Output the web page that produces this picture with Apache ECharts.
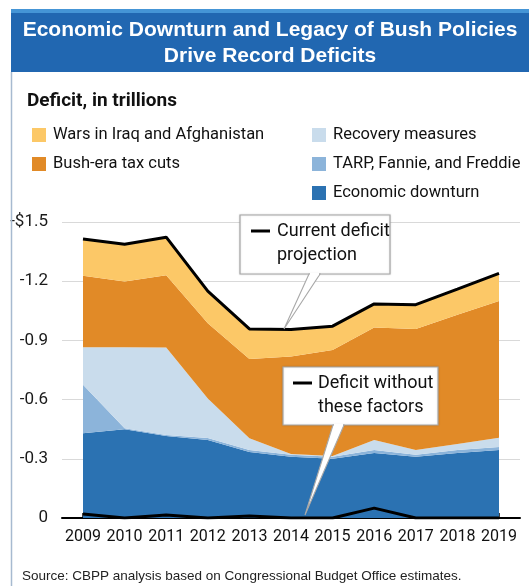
<!DOCTYPE html>
<html>
<head>
<meta charset="utf-8">
<script src="https://cdn.jsdelivr.net/npm/echarts@6/dist/echarts.min.js"></script>
<style>
html,body{margin:0;padding:0;background:#fff;}
#c{width:529px;height:586px;}
</style>
</head>
<body>
<div id="c"></div>
<script>
// ---- data (trillions of dollars; deficits shown as negatives) ----
const years = ['2009', '2010', '2011', '2012', '2013', '2014', '2015', '2016', '2017', '2018', '2019'];
const economicDownturn = [-0.43, -0.45, -0.415, -0.395, -0.335, -0.31, -0.30, -0.33, -0.31, -0.33, -0.345];
const tarpFannieFreddie = [-0.245, -0.005, -0.005, -0.01, -0.01, -0.01, -0.01, -0.015, -0.01, -0.015, -0.015];
const recoveryMeasures = [-0.19, -0.41, -0.444, -0.20, -0.059, -0.004, -0.004, -0.05, -0.025, -0.03, -0.047];
const bushTaxCuts = [-0.363, -0.333, -0.366, -0.382, -0.402, -0.494, -0.537, -0.57, -0.613, -0.655, -0.693];
const warsIraqAfghanistan = [-0.186, -0.189, -0.193, -0.163, -0.152, -0.137, -0.121, -0.12, -0.123, -0.13, -0.14];
const currentDeficit = [-1.414, -1.387, -1.423, -1.15, -0.958, -0.955, -0.972, -1.085, -1.081, -1.16, -1.24];
const deficitWithoutFactors = [-0.02, 0, -0.015, 0, -0.01, 0, 0, -0.05, 0, 0, 0];
const yTickLabels = {'-1.5': '-$1.5', '-1.2': '-1.2', '-0.9': '-0.9', '-0.6': '-0.6', '-0.3': '-0.3', '0': '0'};

const NARROW = "Roboto, 'Liberation Sans', sans-serif";
const SANS = "'Liberation Sans', Arial, sans-serif";

function areaSeries(name, data, color) {
  return {
    name, type: 'line', stack: 'total', data,
    xAxisIndex: 1, yAxisIndex: 1,
    symbol: 'none', smooth: false,
    lineStyle: { width: 0, color },
    itemStyle: { color },
    areaStyle: { color, opacity: 1 },
    emphasis: { disabled: true },
    z: 2
  };
}

function callout(x, y, w, h, baseL, baseR, tipX, tipY, line1, line2, textX, dashX) {
  const bottom = y + h;
  return [
    { type: 'rect', z: 100, shape: { x, y, width: w, height: h },
      style: { fill: '#fff', stroke: '#a8a8a8', lineWidth: 1.2, shadowBlur: 2, shadowColor: 'rgba(0,0,0,0.15)' } },
    { type: 'polygon', z: 101, shape: { points: [[baseL, bottom], [tipX, tipY], [baseR, bottom]] },
      style: { fill: '#fff', stroke: '#a8a8a8', lineWidth: 1.1 } },
    { type: 'line', z: 102, shape: { x1: baseL + 1, y1: bottom, x2: baseR - 1, y2: bottom },
      style: { stroke: '#fff', lineWidth: 2.5 } },
    { type: 'line', z: 102, shape: { x1: dashX, y1: y + 16, x2: dashX + 19, y2: y + 16 },
      style: { stroke: '#000', lineWidth: 3 } },
    { type: 'text', z: 102, x: textX, y: y + 16,
      style: { text: line1, fill: '#111', font: '18px ' + NARROW, textVerticalAlign: 'middle' } },
    { type: 'text', z: 102, x: textX, y: y + 40,
      style: { text: line2, fill: '#111', font: '18px ' + NARROW, textVerticalAlign: 'middle' } }
  ];
}

const chart = echarts.init(document.getElementById('c'), null, { renderer: 'canvas' });

const option = {
  backgroundColor: '#fff',
  animation: false,
  grid: [
    { left: 62, right: 9, top: 222, height: 296 },
    { left: 83, right: 30, top: 222, height: 296 }
  ],
  xAxis: [
    { gridIndex: 0, type: 'value', min: 0, max: 1,
      splitLine: { show: false }, axisTick: { show: false }, axisLabel: { show: false },
      axisLine: { show: true, onZero: false, lineStyle: { color: '#000', width: 2 } } },
    { gridIndex: 1, type: 'category', data: years, boundaryGap: false,
      axisLine: { show: false, onZero: false },
      splitLine: { show: false },
      axisTick: { show: true, inside: true, length: 5, interval: 0, lineStyle: { color: '#000', width: 1.5 } },
      axisLabel: { interval: 0, margin: 11, color: '#111', fontSize: 16, fontFamily: NARROW } }
  ],
  yAxis: [
    { gridIndex: 0, type: 'value', min: -1.5, max: 0, interval: 0.3, inverse: true,
      axisLine: { show: false }, axisTick: { show: false },
      splitLine: { lineStyle: { color: '#d9d9d9', width: 1 } },
      axisLabel: { margin: 14, color: '#1a1a1a', fontSize: 17, fontFamily: NARROW,
        formatter: v => { const k = String(Math.round(v * 10) / 10); return yTickLabels[k] !== undefined ? yTickLabels[k] : k; } } },
    { gridIndex: 1, type: 'value', min: -1.5, max: 0, interval: 0.3, inverse: true, show: false,
      splitLine: { show: false } }
  ],
  legend: [
    { orient: 'vertical', left: 27, top: 121, itemWidth: 14, itemHeight: 14, itemGap: 11, icon: 'rect',
      selectedMode: false,
      textStyle: { fontSize: 16.5, lineHeight: 18, fontFamily: NARROW, color: '#111', padding: [0, 0, 0, 2] },
      data: ['Wars in Iraq and Afghanistan', 'Bush-era tax cuts'] },
    { orient: 'vertical', left: 307, top: 121, itemWidth: 14, itemHeight: 14, itemGap: 11, icon: 'rect',
      selectedMode: false,
      textStyle: { fontSize: 16.5, lineHeight: 18, fontFamily: NARROW, color: '#111', padding: [0, 0, 0, 2] },
      data: ['Recovery measures', 'TARP, Fannie, and Freddie', 'Economic downturn'] }
  ],
  series: [
    areaSeries('Economic downturn', economicDownturn, '#2b72b2'),
    areaSeries('TARP, Fannie, and Freddie', tarpFannieFreddie, '#8cb4da'),
    areaSeries('Recovery measures', recoveryMeasures, '#c9dcec'),
    areaSeries('Bush-era tax cuts', bushTaxCuts, '#e18a27'),
    areaSeries('Wars in Iraq and Afghanistan', warsIraqAfghanistan, '#fcc867'),
    { name: 'Current deficit projection', type: 'line', data: currentDeficit, xAxisIndex: 1, yAxisIndex: 1,
      symbol: 'none', lineStyle: { color: '#000', width: 3 }, z: 5, emphasis: { disabled: true } },
    { name: 'Deficit without these factors', type: 'line', data: deficitWithoutFactors, xAxisIndex: 1, yAxisIndex: 1,
      symbol: 'none', lineStyle: { color: '#000', width: 3 }, z: 5, emphasis: { disabled: true } }
  ],
  graphic: [
    { type: 'rect', z: 50, shape: { x: 11, y: 9, width: 518, height: 63 }, style: { fill: '#2167b1' } },
    { type: 'rect', z: 51, shape: { x: 11, y: 9, width: 518, height: 4 }, style: { fill: '#4595d6' } },
    { type: 'line', z: 50, shape: { x1: 11.5, y1: 72, x2: 11.5, y2: 586 }, style: { stroke: '#a7bad0', lineWidth: 1.5 } },
    { type: 'text', z: 52, x: 270, y: 30,
      style: { text: 'Economic Downturn and Legacy of Bush Policies', fill: '#fff', font: 'bold 21px ' + SANS,
        textAlign: 'center', textVerticalAlign: 'middle' } },
    { type: 'text', z: 52, x: 270, y: 56,
      style: { text: 'Drive Record Deficits', fill: '#fff', font: 'bold 21px ' + SANS,
        textAlign: 'center', textVerticalAlign: 'middle' } },
    { type: 'text', z: 52, x: 27, y: 101,
      style: { text: 'Deficit, in trillions', fill: '#111', font: 'bold 19px ' + NARROW, textVerticalAlign: 'middle' } },
    { type: 'text', z: 52, x: 22, y: 576,
      style: { text: 'Source: CBPP analysis based on Congressional Budget Office estimates.', fill: '#222',
        font: '13.5px ' + SANS, textVerticalAlign: 'middle' } },
    ...callout(240, 215, 150, 59, 309, 320, 284, 329, 'Current deficit', 'projection', 277, 251),
    ...callout(283, 367, 155, 58, 333, 344, 305, 515, 'Deficit without', 'these factors', 318, 293)
  ]
};
chart.setOption(option);
</script>
</body>
</html>
